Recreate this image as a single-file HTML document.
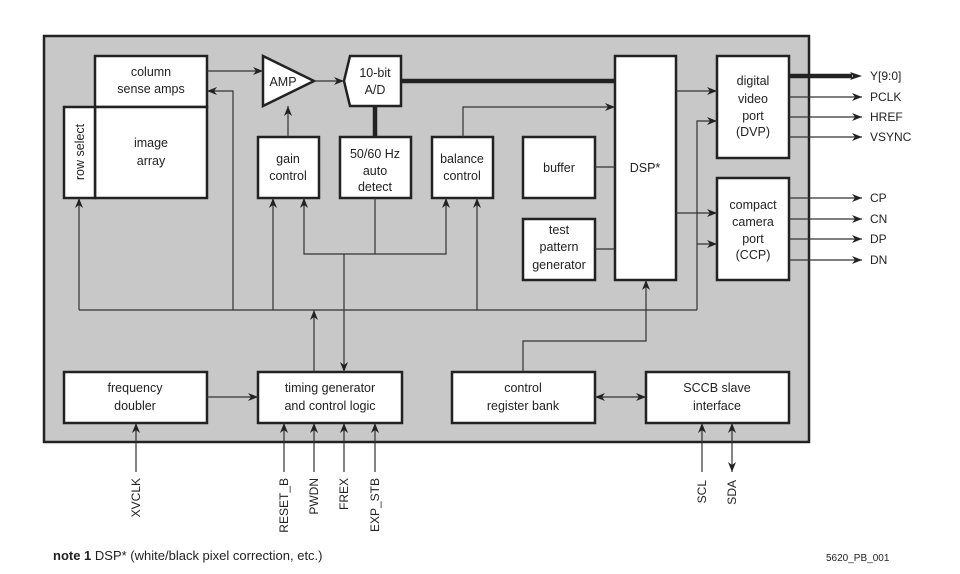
<!DOCTYPE html>
<html><head><meta charset="utf-8"><style>
html,body{margin:0;padding:0;background:#fff;}
svg{display:block;}
text{font-family:"Liberation Sans",sans-serif;fill:#222;}
</style></head><body>
<svg width="960" height="574" viewBox="0 0 960 574" xmlns="http://www.w3.org/2000/svg">
<defs>
<marker id="a" viewBox="0 0 10 8" refX="10" refY="4" markerWidth="10" markerHeight="8" markerUnits="userSpaceOnUse" orient="auto-start-reverse">
<path d="M0,0 L10,4 L0,8 L3,4 Z" fill="#222"/></marker>
</defs>
<rect x="44" y="36" width="765" height="406" fill="#c8c8c8" stroke="#222" stroke-width="2.5"/>
<g fill="#fff" stroke="#222" stroke-width="2.5">
<rect x="95" y="56" width="112" height="51"/>
<rect x="95" y="107" width="112" height="91"/>
<rect x="64" y="107" width="31" height="91"/>
<polygon points="263,56 314,81 263,106"/>
<polygon points="350,56 401,56 401,106 350,106 344,81"/>
<rect x="258" y="137" width="61" height="61"/>
<rect x="340" y="137" width="71" height="61"/>
<rect x="432" y="137" width="61" height="61"/>
<rect x="523" y="137" width="72" height="61"/>
<rect x="523" y="219" width="72" height="61"/>
<rect x="615" y="56" width="61" height="224"/>
<rect x="717" y="56" width="72" height="102"/>
<rect x="717" y="178" width="72" height="102"/>
<rect x="64" y="372" width="143" height="51"/>
<rect x="258" y="372" width="144" height="51"/>
<rect x="452" y="372" width="143" height="51"/>
<rect x="646" y="372" width="143" height="51"/>
</g>
<g stroke="#222" stroke-width="4.5" fill="none">
<line x1="401" y1="81" x2="615" y2="81"/>
<line x1="375" y1="106" x2="375" y2="137"/>
<line x1="789" y1="76" x2="852" y2="76"/>
</g>
<path d="M850,72 L862,76 L850,80 L853,76Z" fill="#222"/>
<g stroke="#333" stroke-width="1.2" fill="none">
<line x1="207" y1="71" x2="263" y2="71" marker-end="url(#a)"/>
<line x1="314" y1="81" x2="344" y2="81" marker-end="url(#a)"/>
<line x1="288" y1="137" x2="288" y2="106" marker-end="url(#a)"/>
<polyline points="79,310 697,310"/>
<line x1="79" y1="310" x2="79" y2="198" marker-end="url(#a)"/>
<polyline points="233,310 233,91 207,91" marker-end="url(#a)"/>
<line x1="273" y1="310" x2="273" y2="198" marker-end="url(#a)"/>
<line x1="477" y1="310" x2="477" y2="198" marker-end="url(#a)"/>
<polyline points="304,198 304,254 446,254 446,198" marker-start="url(#a)" marker-end="url(#a)"/>
<line x1="375" y1="198" x2="375" y2="254"/>
<line x1="344" y1="254" x2="344" y2="372" marker-end="url(#a)"/>
<line x1="314" y1="372" x2="314" y2="310" marker-end="url(#a)"/>
<polyline points="463,137 463,107 615,107" marker-end="url(#a)"/>
<line x1="595" y1="167" x2="615" y2="167"/>
<line x1="595" y1="249" x2="615" y2="249"/>
<line x1="676" y1="91" x2="717" y2="91" marker-end="url(#a)"/>
<line x1="676" y1="213" x2="717" y2="213" marker-end="url(#a)"/>
<polyline points="697,310 697,121 717,121" marker-end="url(#a)"/>
<polyline points="697,244 717,244" marker-end="url(#a)"/>
<polyline points="523,372 523,341 646,341 646,280" marker-end="url(#a)"/>
<line x1="595" y1="397" x2="646" y2="397" marker-start="url(#a)" marker-end="url(#a)"/>
<line x1="207" y1="397" x2="258" y2="397" marker-end="url(#a)"/>
<line x1="789" y1="97" x2="862" y2="97" marker-end="url(#a)"/>
<line x1="789" y1="117" x2="862" y2="117" marker-end="url(#a)"/>
<line x1="789" y1="137" x2="862" y2="137" marker-end="url(#a)"/>
<line x1="789" y1="198" x2="862" y2="198" marker-end="url(#a)"/>
<line x1="789" y1="219" x2="862" y2="219" marker-end="url(#a)"/>
<line x1="789" y1="239" x2="862" y2="239" marker-end="url(#a)"/>
<line x1="789" y1="260" x2="862" y2="260" marker-end="url(#a)"/>
<line x1="136" y1="472" x2="136" y2="423" marker-end="url(#a)"/>
<line x1="284" y1="472" x2="284" y2="423" marker-end="url(#a)"/>
<line x1="314" y1="472" x2="314" y2="423" marker-end="url(#a)"/>
<line x1="344" y1="472" x2="344" y2="423" marker-end="url(#a)"/>
<line x1="375" y1="472" x2="375" y2="423" marker-end="url(#a)"/>
<line x1="702" y1="472" x2="702" y2="423" marker-end="url(#a)"/>
<line x1="732" y1="472" x2="732" y2="423" marker-start="url(#a)" marker-end="url(#a)"/>
</g>
<g font-size="12.5" text-anchor="middle">
<text x="151" y="76">column</text><text x="151" y="93">sense amps</text>
<text x="151" y="147">image</text><text x="151" y="165">array</text>
<text transform="translate(84,152) rotate(-90)" >row select</text>
<text x="283" y="86">AMP</text>
<text x="375" y="77">10-bit</text><text x="375" y="94">A/D</text>
<text x="288" y="163">gain</text><text x="288" y="180">control</text>
<text x="375" y="158">50/60 Hz</text><text x="375" y="175">auto</text><text x="375" y="191">detect</text>
<text x="462" y="163">balance</text><text x="462" y="180">control</text>
<text x="559" y="172">buffer</text>
<text x="559" y="234">test</text><text x="559" y="251">pattern</text><text x="559" y="269">generator</text>
<text x="645" y="172">DSP*</text>
<text x="753" y="85">digital</text><text x="753" y="103">video</text><text x="753" y="120">port</text><text x="753" y="136">(DVP)</text>
<text x="753" y="209">compact</text><text x="753" y="226">camera</text><text x="753" y="243">port</text><text x="753" y="259">(CCP)</text>
<text x="135" y="392">frequency</text><text x="135" y="410">doubler</text>
<text x="330" y="392">timing generator</text><text x="330" y="410">and control logic</text>
<text x="523" y="392">control</text><text x="523" y="410">register bank</text>
<text x="717" y="392">SCCB slave</text><text x="717" y="410">interface</text>
</g>
<g font-size="12" text-anchor="start">
<text x="870" y="80">Y[9:0]</text><text x="870" y="101">PCLK</text><text x="870" y="121">HREF</text><text x="870" y="141">VSYNC</text>
<text x="870" y="202">CP</text><text x="870" y="223">CN</text><text x="870" y="243">DP</text><text x="870" y="264">DN</text>
</g>
<g font-size="12" text-anchor="end">
<text transform="translate(140,478) rotate(-90)">XVCLK</text>
<text transform="translate(288,478) rotate(-90)">RESET_B</text>
<text transform="translate(318,478) rotate(-90)">PWDN</text>
<text transform="translate(348,478) rotate(-90)">FREX</text>
<text transform="translate(379,478) rotate(-90)">EXP_STB</text>
<text transform="translate(706,480) rotate(-90)">SCL</text>
<text transform="translate(736,480) rotate(-90)">SDA</text>
</g>
<text x="53" y="560" font-size="13"><tspan font-weight="bold">note 1</tspan> DSP* (white/black pixel correction, etc.)</text>
<text x="826" y="561" font-size="10">5620_PB_001</text>
</svg>
</body></html>
